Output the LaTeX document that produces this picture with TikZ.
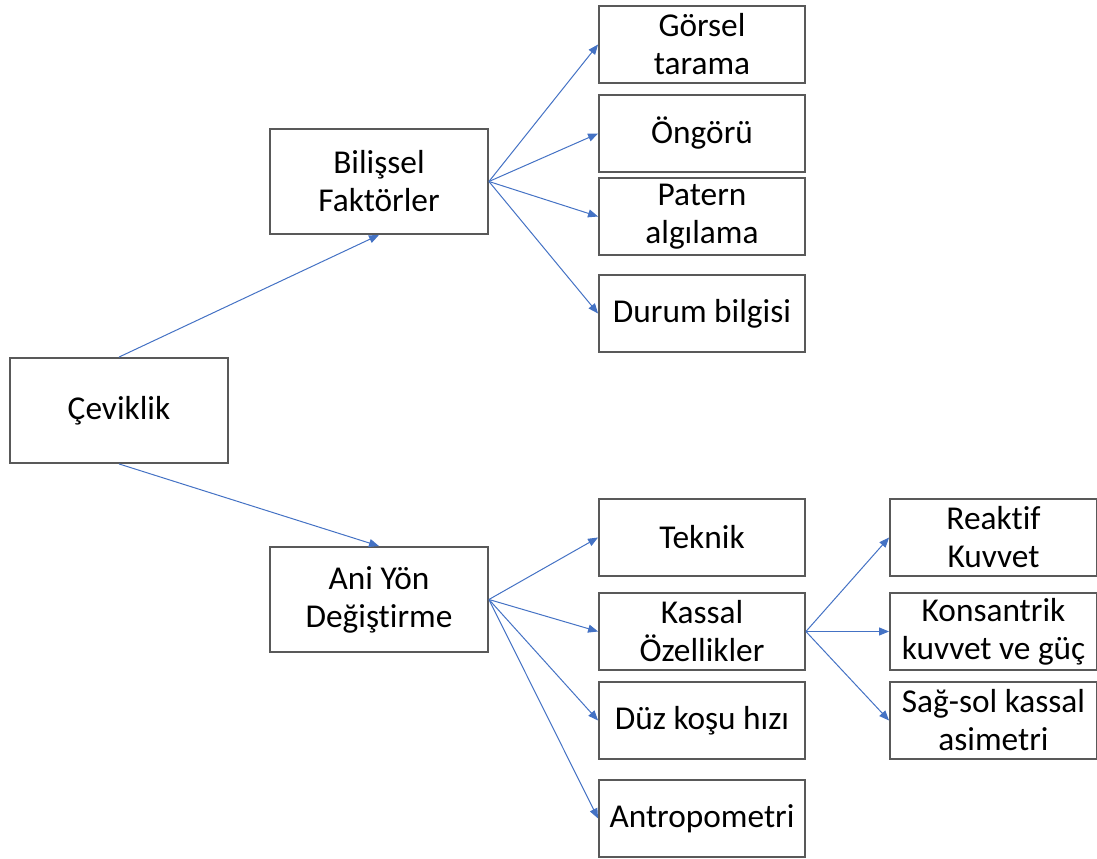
\documentclass[tikz,border=0pt]{standalone}
\usepackage{fontspec}
\setmainfont[Ligatures=NoCommon]{Carlito}
\usetikzlibrary{arrows.meta}
\definecolor{edgeblue}{HTML}{4472C4}
\definecolor{boxgray}{HTML}{595959}
\begin{document}
\begin{tikzpicture}[x=0.75pt,y=-0.75pt,
  box/.style={draw=boxgray, line width=1.4pt, fill=white, align=center, inner sep=0pt,
    font=\fontsize{25}{28.5}\selectfont, text=black},
  bigbox/.style={box, minimum width=218*0.75pt, minimum height=105*0.75pt},
  smallbox/.style={box, minimum width=206*0.75pt, minimum height=77*0.75pt},
  conn/.style={draw=edgeblue, line width=0.75pt, -{Triangle[length=7.5pt,width=6pt]}}
]
\useasboundingbox (0,0) rectangle (1097,859);
% main nodes
\node[bigbox] (cev) at (119,410.5) {Çeviklik};
\node[bigbox] (bil) at (379,181.5) {Bilişsel\\Faktörler};
\node[bigbox] (ani) at (379,599.5) {Ani Yön\\Değiştirme};
% cognitive
\node[smallbox] (gor) at (702,44.5) {Görsel\\tarama};
\node[smallbox] (ong) at (702,133.5) {Öngörü};
\node[smallbox] (pat) at (702,216.5) {Patern\\algılama};
\node[smallbox] (dur) at (702,313.5) {Durum bilgisi};
% change of direction
\node[smallbox] (tek) at (702,537.5) {Teknik};
\node[smallbox] (kas) at (702,631.5) {Kassal\\Özellikler};
\node[smallbox] (duz) at (702,720.5) {Düz koşu hızı};
\node[smallbox] (ant) at (702,818.5) {Antropometri};
% muscular
\node[smallbox, minimum width=207*0.75pt] (rea) at (993.5,537.5) {Reaktif\\Kuvvet};
\node[smallbox, minimum width=207*0.75pt] (kon) at (993.5,631.5) {Konsantrik\\kuvvet ve güç};
\node[smallbox, minimum width=207*0.75pt] (sag) at (993.5,720.5) {Sağ-sol kassal\\asimetri};
% connectors
\draw[conn] (cev.north) -- (bil.south);
\draw[conn] (cev.south) -- (ani.north);
\foreach \t in {gor,ong,pat,dur} \draw[conn] (bil.east) -- (\t.west);
\foreach \t in {tek,kas,duz,ant} \draw[conn] (ani.east) -- (\t.west);
\foreach \t in {rea,kon,sag} \draw[conn] (kas.east) -- (\t.west);
\end{tikzpicture}
\end{document}
